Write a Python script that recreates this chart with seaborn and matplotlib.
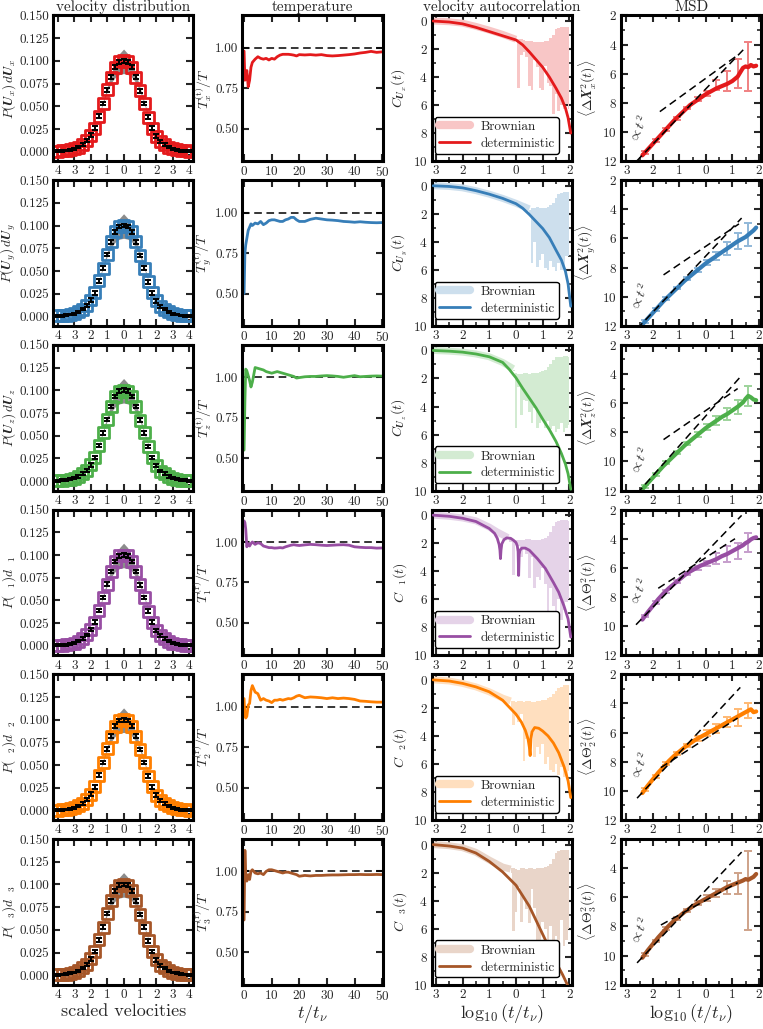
import matplotlib
matplotlib.use('Agg')
import matplotlib.pyplot as plt
import seaborn as sns
from matplotlib.lines import Line2D
from matplotlib.ticker import MultipleLocator, FixedLocator

sns.set_style('ticks')
plt.rcParams['font.family'] = ['cmr10', 'DejaVu Serif']
plt.rcParams['mathtext.fontset'] = 'cm'
plt.rcParams['axes.formatter.use_mathtext'] = True
plt.rcParams['axes.unicode_minus'] = False

# ---------------- data ----------------
# velocity distribution (same for all six panels)
v_grid = [-4, -3.75, -3.5, -3.25, -3, -2.75, -2.5, -2.25, -2, -1.75, -1.5, -1.25, -1, -0.75, -0.5, -0.25,
          0, 0.25, 0.5, 0.75, 1, 1.25, 1.5, 1.75, 2, 2.25, 2.5, 2.75, 3, 3.25, 3.5, 3.75, 4]
p_vel = [0.0005, 0.0008, 0.0012, 0.002, 0.003, 0.005, 0.008, 0.012, 0.018, 0.026, 0.039, 0.053, 0.068,
         0.082, 0.093, 0.099, 0.100, 0.099, 0.093, 0.082, 0.067, 0.053, 0.038, 0.026, 0.017, 0.011,
         0.008, 0.005, 0.003, 0.002, 0.001, 0.0008, 0.0005]
p_err = [0.001, 0.001, 0.001, 0.001, 0.001, 0.0012, 0.0015, 0.0015, 0.002, 0.002, 0.002, 0.002, 0.002,
         0.002, 0.002, 0.002, 0.002, 0.002, 0.002, 0.002, 0.002, 0.002, 0.002, 0.002, 0.002, 0.0015,
         0.0015, 0.0012, 0.001, 0.001, 0.001, 0.001, 0.001]
band_x = [-1.5, -1.25, -1, -0.75, -0.5, -0.25, 0, 0.25, 0.5, 0.75, 1, 1.25, 1.5]
band_lo = [0.039, 0.053, 0.066, 0.076, 0.082, 0.085, 0.086, 0.085, 0.082, 0.076, 0.066, 0.053, 0.039]
band_hi = [0.041, 0.056, 0.071, 0.086, 0.098, 0.108, 0.113, 0.108, 0.098, 0.086, 0.071, 0.056, 0.041]

# temperature
t_grid = [0, 0.3, 0.6, 1, 1.5, 2, 2.5, 3, 4, 5, 6, 7, 8, 9, 10, 11, 12, 13, 14, 15, 16, 17, 18, 19, 20,
          22, 24, 26, 28, 30, 32, 34, 36, 38, 40, 42, 44, 46, 48, 50]
temp_x = [0.98, 0.80, 0.82, 0.86, 0.76, 0.80, 0.88, 0.91,
          0.93, 0.945, 0.935, 0.93, 0.935, 0.925, 0.935, 0.93, 0.945, 0.955, 0.96, 0.96, 0.96, 0.958, 0.955, 0.95, 0.958,
          0.956, 0.958, 0.955, 0.958, 0.952, 0.95, 0.952, 0.955, 0.958, 0.962, 0.968, 0.972, 0.978, 0.972, 0.975]
temp_y = [0.50, 0.75, 0.80, 0.84, 0.89, 0.91, 0.93, 0.92,
          0.935, 0.93, 0.945, 0.925, 0.935, 0.95, 0.955, 0.955, 0.95, 0.945, 0.945, 0.955, 0.96, 0.97, 0.97, 0.955, 0.945,
          0.945, 0.958, 0.965, 0.96, 0.955, 0.953, 0.95, 0.945, 0.943, 0.94, 0.943, 0.94, 0.938, 0.937, 0.938]
temp_z = [0.55, 0.85, 1.05, 1.04, 1.01, 0.98, 0.94, 0.97,
          1.06, 1.055, 1.05, 1.045, 1.035, 1.03, 1.025, 1.03, 1.035, 1.03, 1.025, 1.02, 1.015, 1.01, 1.005, 0.995, 0.998,
          1.003, 1.005, 1.005, 1.008, 1.01, 1.008, 1.005, 1.0, 1.005, 1.01, 1.003, 1.005, 1.007, 1.008, 1.007]
temp_1 = [1.13, 1.12, 1.08, 0.97, 0.99, 0.975, 0.99, 1.0,
          0.985, 0.995, 0.99, 0.975, 0.97, 0.965, 0.965, 0.962, 0.963, 0.965, 0.963, 0.97, 0.975, 0.98, 0.983, 0.98, 0.978,
          0.982, 0.985, 0.983, 0.98, 0.978, 0.98, 0.982, 0.983, 0.98, 0.97, 0.967, 0.965, 0.965, 0.962, 0.963]
temp_2 = [1.05, 0.95, 0.93, 0.94, 1.01, 1.02, 1.10, 1.13,
          1.09, 1.08, 1.04, 1.05, 1.04, 1.035, 1.025, 1.04, 1.04, 1.045, 1.04, 1.045, 1.05, 1.048, 1.055, 1.065, 1.07,
          1.055, 1.06, 1.058, 1.055, 1.05, 1.055, 1.05, 1.053, 1.05, 1.045, 1.035, 1.033, 1.03, 1.028, 1.028]
temp_3 = [0.70, 1.13, 0.97, 0.94, 0.98, 0.95, 1.0, 1.01,
          0.99, 0.985, 0.99, 0.98, 1.0, 1.01, 1.01, 1.005, 1.0, 0.995, 0.99, 0.995, 0.995, 0.99, 0.985, 0.98, 0.97,
          0.975, 0.972, 0.975, 0.975, 0.977, 0.978, 0.978, 0.979, 0.98, 0.98, 0.981, 0.98, 0.98, 0.981, 0.98]

# velocity autocorrelation: deterministic curves
det_x_x = [-3.1, -2.5, -2.0, -1.5, -1.0, -0.5, 0.0, 0.25, 0.5, 0.75, 1.0, 1.25, 1.5, 1.7, 1.85, 1.95, 2.05]
det_y_x = [0.0, 0.07, 0.2, 0.45, 0.75, 1.05, 1.35, 1.7, 2.2, 2.75, 3.3, 4.0, 4.8, 5.5, 6.2, 6.9, 8.0]
det_x_y = [-3.1, -2.5, -2.0, -1.5, -1.0, -0.5, 0.0, 0.25, 0.5, 0.75, 1.0, 1.25, 1.5, 1.7, 1.85, 1.95, 2.05]
det_y_y = [0.0, 0.05, 0.15, 0.35, 0.6, 0.9, 1.28, 1.6, 2.05, 2.55, 3.05, 3.7, 4.6, 5.3, 6.1, 7.0, 8.6]
det_x_z = [-3.1, -2.5, -2.0, -1.5, -1.0, -0.5, -0.25, 0.0, 0.25, 0.5, 0.75, 1.0, 1.25, 1.5, 1.7, 1.85, 1.95, 2.05]
det_y_z = [0.0, 0.05, 0.12, 0.25, 0.45, 0.85, 1.35, 1.95, 2.7, 3.4, 4.1, 4.9, 5.65, 6.5, 7.35, 8.1, 8.8, 9.9]
det_x_1 = [-3.1, -2.5, -2.0, -1.5, -1.0, -0.8, -0.7, -0.63, -0.6, -0.58, -0.56, -0.53, -0.45, -0.35, -0.2, -0.1,
           0.0, 0.05, 0.08, 0.1, 0.12, 0.15, 0.22, 0.35, 0.5, 0.8, 1.1, 1.4, 1.6, 1.8, 1.95, 2.05]
det_y_1 = [0.0, 0.08, 0.22, 0.45, 0.95, 1.3, 1.65, 2.1, 2.5, 3.1, 2.5, 2.05, 1.75, 1.62, 1.65, 1.78,
           1.95, 2.2, 2.6, 4.3, 2.8, 2.5, 2.35, 2.35, 2.5, 3.1, 3.8, 4.8, 5.5, 6.5, 7.4, 8.7]
det_x_2 = [-3.1, -2.5, -2.0, -1.5, -1.0, -0.5, 0.0, 0.2, 0.35, 0.45, 0.5, 0.53, 0.56, 0.6, 0.7, 0.85, 1.0,
           1.2, 1.4, 1.6, 1.8, 1.95, 2.05]
det_y_2 = [0.0, 0.08, 0.25, 0.5, 0.85, 1.45, 2.45, 3.0, 3.6, 4.2, 4.8, 5.4, 4.2, 3.7, 3.4, 3.45, 3.65,
           4.0, 4.5, 5.2, 6.2, 7.2, 8.4]
det_x_3 = [-3.1, -2.5, -2.0, -1.5, -1.0, -0.5, 0.0, 0.5, 1.0, 1.5, 1.75, 1.95]
det_y_3 = [0.0, 0.1, 0.25, 0.6, 1.2, 1.95, 2.9, 4.4, 6.4, 8.4, 9.3, 10.1]

# velocity autocorrelation: Brownian (smooth part and noisy envelope)
bs_x_x = [-3.1, -2.5, -2.0, -1.5, -1.0, -0.5, 0.0]
bs_y_x = [0.0, 0.05, 0.15, 0.38, 0.65, 0.95, 1.3]
bn_x_x = [0.0, 0.1, 0.2, 0.3, 0.4, 0.5, 0.6, 0.7, 0.8, 0.9, 1.0, 1.1, 1.2, 1.3, 1.4, 1.5, 1.6, 1.7, 1.8, 1.9, 2.0]
bn_hi_x = [1.25, 1.3, 1.3, 1.35, 1.4, 1.4, 1.45, 1.5, 1.5, 1.5, 1.5, 1.45, 1.4, 1.2, 1.0, 0.6, 0.5, 0.4, 0.4, 0.4, 0.4]
bn_lo_x = [1.4, 4.8, 2.4, 2.2, 2.6, 4.6, 4.9, 2.8, 3.3, 4.8, 4.9, 3.2, 4.4, 4.6, 6.6, 5.2, 6.4, 6.0, 6.3, 5.9, 6.3]

bs_x_y = [-3.1, -2.5, -2.0, -1.5, -1.0, -0.5, 0.0, 0.5]
bs_y_y = [0.0, 0.05, 0.15, 0.35, 0.6, 0.9, 1.25, 1.65]
bn_x_y = [0.5, 0.6, 0.7, 0.8, 0.9, 1.0, 1.1, 1.2, 1.3, 1.4, 1.5, 1.6, 1.7, 1.8, 1.9, 2.0]
bn_hi_y = [1.7, 1.6, 1.6, 1.55, 1.6, 1.6, 1.6, 1.55, 1.4, 1.2, 0.9, 0.6, 0.5, 0.45, 0.45, 0.45]
bn_lo_y = [2.0, 5.5, 4.0, 5.8, 5.3, 4.9, 5.9, 6.0, 5.4, 5.8, 6.1, 5.5, 6.0, 5.8, 5.0, 5.0]

bs_x_z = [-3.1, -2.5, -2.0, -1.5, -1.0, -0.5, -0.1]
bs_y_z = [0.0, 0.05, 0.12, 0.25, 0.45, 0.85, 1.3]
bn_x_z = [-0.1, 0.0, 0.1, 0.2, 0.3, 0.4, 0.5, 0.6, 0.7, 0.8, 0.9, 1.0, 1.1, 1.2, 1.3, 1.4, 1.5, 1.6, 1.7, 1.8, 1.9, 2.0]
bn_hi_z = [1.4, 1.6, 1.65, 1.7, 1.6, 1.6, 1.65, 1.6, 1.6, 1.6, 1.55, 1.5, 1.4, 1.2, 1.0, 0.7, 0.5, 0.45, 0.45, 0.4, 0.4, 0.45]
bn_lo_z = [1.5, 5.5, 2.6, 4.6, 3.5, 3.6, 4.4, 5.2, 4.1, 5.5, 5.2, 4.9, 5.5, 5.0, 5.6, 5.4, 5.8, 5.6, 5.2, 5.8, 5.5, 5.3]

bs_x_1 = [-3.1, -2.5, -2.0, -1.5, -1.0, -0.7, -0.3]
bs_y_1 = [0.0, 0.08, 0.2, 0.4, 0.85, 1.2, 1.6]
bn_x_1 = [-0.3, -0.2, -0.1, 0.0, 0.1, 0.2, 0.3, 0.4, 0.5, 0.6, 0.7, 0.8, 0.9, 1.0, 1.1, 1.2, 1.3, 1.4, 1.5, 1.6,
          1.7, 1.8, 1.9, 2.0]
bn_hi_1 = [1.6, 1.7, 1.75, 1.75, 1.8, 1.8, 1.75, 1.7, 1.7, 1.75, 1.8, 1.8, 1.75, 1.7, 1.6, 1.5, 1.2, 0.8, 0.5, 0.4,
           0.35, 0.35, 0.35, 0.4]
bn_lo_1 = [1.7, 1.9, 4.3, 2.0, 2.2, 3.0, 2.4, 2.8, 4.5, 3.0, 5.2, 4.4, 4.6, 3.8, 4.9, 7.0, 5.2, 6.5, 7.4, 6.0,
           7.5, 6.8, 6.2, 6.0]

bs_x_2 = [-3.1, -2.5, -2.0, -1.5, -1.0, -0.5, -0.2]
bs_y_2 = [0.0, 0.08, 0.25, 0.5, 0.85, 1.3, 1.5]
bn_x_2 = [-0.2, -0.1, 0.0, 0.1, 0.2, 0.3, 0.4, 0.5, 0.6, 0.7, 0.8, 0.9, 1.0, 1.1, 1.2, 1.3, 1.4, 1.5, 1.6, 1.7,
          1.8, 1.9, 2.0]
bn_hi_2 = [1.5, 1.5, 1.55, 1.5, 1.5, 1.55, 1.5, 1.5, 1.55, 1.6, 1.5, 1.5, 1.45, 1.4, 1.3, 1.2, 1.0, 0.8, 0.6, 0.5,
           0.4, 0.4, 0.4]
bn_lo_2 = [2.0, 3.2, 2.6, 3.0, 2.4, 5.8, 4.2, 4.6, 3.6, 5.5, 4.8, 5.3, 4.6, 6.0, 5.5, 6.4, 6.6, 6.0, 6.8, 6.2,
           6.9, 6.8, 6.5]

bs_x_3 = [-3.1, -2.5, -2.0, -1.5, -1.0, -0.5, -0.2]
bs_y_3 = [0.0, 0.08, 0.22, 0.55, 1.1, 1.6, 1.75]
bn_x_3 = [-0.2, -0.1, 0.0, 0.1, 0.2, 0.3, 0.4, 0.5, 0.6, 0.7, 0.8, 0.9, 1.0, 1.1, 1.2, 1.3, 1.4, 1.5, 1.6, 1.7,
          1.8, 1.9, 2.0]
bn_hi_3 = [1.7, 1.7, 1.75, 1.8, 1.7, 1.7, 1.75, 1.7, 1.7, 1.75, 1.7, 1.7, 1.65, 1.6, 1.5, 1.4, 1.0, 0.6, 0.45, 0.4,
           0.35, 0.35, 0.35]
bn_lo_3 = [2.0, 6.2, 4.8, 3.0, 5.5, 3.8, 4.6, 5.6, 3.2, 4.5, 6.8, 8.5, 5.5, 6.0, 7.0, 5.8, 8.4, 6.5, 7.0, 5.4,
           7.2, 6.8, 6.0]

# MSD
msd_x = [-2.4, -2.2, -2.0, -1.8, -1.6, -1.4, -1.2, -1.0, -0.8, -0.6, -0.4, -0.2, 0.0, 0.2, 0.4, 0.6, 0.8, 1.0,
         1.2, 1.4, 1.5, 1.6, 1.7, 1.8, 1.9]
msd_xx = [11.6, 11.2, 10.8, 10.4, 10.0, 9.6, 9.2, 8.85, 8.5, 8.15, 7.9, 7.65, 7.4, 7.2, 7.0, 6.85, 6.7, 6.5,
          6.2, 5.6, 5.5, 5.55, 5.4, 5.5, 5.45]
msd_yy = [11.9, 11.5, 11.1, 10.7, 10.3, 9.95, 9.6, 9.25, 8.9, 8.6, 8.3, 8.0, 7.7, 7.45, 7.2, 6.95, 6.7, 6.45,
          6.2, 6.0, 5.9, 5.75, 5.6, 5.45, 5.25]
msd_zz = [11.9, 11.5, 11.1, 10.7, 10.3, 9.95, 9.6, 9.25, 8.9, 8.6, 8.3, 8.0, 7.7, 7.45, 7.2, 6.95, 6.75, 6.5,
          6.25, 5.95, 5.7, 5.5, 5.6, 5.75, 5.8]
msd_11 = [9.55, 9.05, 8.6, 8.15, 7.75, 7.4, 7.1, 6.8, 6.5, 6.25, 6.05, 5.85, 5.7, 5.55, 5.4, 5.2, 5.05, 4.85,
          4.65, 4.45, 4.3, 4.2, 4.05, 3.95, 3.9]
msd_22 = [10.15, 9.65, 9.2, 8.75, 8.35, 7.95, 7.6, 7.3, 7.0, 6.75, 6.5, 6.3, 6.1, 5.9, 5.7, 5.5, 5.3, 5.1,
          4.9, 4.7, 4.6, 4.5, 4.4, 4.6, 4.55]
msd_33 = [10.15, 9.65, 9.2, 8.75, 8.35, 7.95, 7.6, 7.3, 7.0, 6.75, 6.5, 6.3, 6.1, 5.9, 5.7, 5.5, 5.3, 5.15,
          5.0, 4.85, 4.75, 4.8, 4.7, 4.6, 4.4]

err_x = [-2.3, -1.9, -1.5, -1.1, -0.7, -0.3, 0.05, 0.4, 0.8, 1.2, 1.6]
errc_x = [11.4, 10.6, 9.8, 9.05, 8.35, 7.75, 7.35, 6.75, 6.5, 6.0, 5.5]
erre_x = [0.1, 0.1, 0.1, 0.1, 0.1, 0.15, 0.2, 0.35, 0.7, 1.0, 1.7]
errc_y = [11.7, 10.9, 10.1, 9.4, 8.75, 8.15, 7.65, 7.2, 6.7, 6.2, 5.75]
erre_y = [0.1, 0.1, 0.1, 0.1, 0.1, 0.15, 0.2, 0.3, 0.45, 0.55, 0.8]
errc_z = [11.7, 10.9, 10.1, 9.4, 8.75, 8.15, 7.65, 7.2, 6.75, 6.25, 5.5]
erre_z = [0.1, 0.1, 0.1, 0.1, 0.1, 0.15, 0.2, 0.3, 0.4, 0.5, 0.7]
errc_1 = [9.3, 8.4, 7.6, 6.95, 6.4, 6.0, 5.7, 5.35, 5.05, 4.85, 4.25]
erre_1 = [0.1, 0.1, 0.1, 0.1, 0.1, 0.15, 0.2, 0.35, 0.55, 0.55, 0.65]
errc_2 = [9.9, 9.0, 8.15, 7.45, 6.9, 6.4, 6.05, 5.7, 5.3, 4.95, 4.5]
erre_2 = [0.1, 0.1, 0.1, 0.1, 0.1, 0.15, 0.2, 0.3, 0.35, 0.6, 0.5]
errc_3 = [9.9, 9.0, 8.15, 7.45, 6.9, 6.4, 6.05, 5.7, 5.35, 5.05, 5.55]
erre_3 = [0.1, 0.1, 0.1, 0.1, 0.1, 0.15, 0.2, 0.3, 0.45, 0.7, 2.7]

# guide lines (x0, x1) and (y0, y1)
ball_x = [[-2.62, 1.41], [-2.6, 1.35], [-2.6, 1.3], [-2.64, 1.35], [-2.6, 1.3], [-2.6, 1.35]]
ball_y = [[12.0, 4.36], [12.2, 4.6], [12.2, 4.2], [9.9, 2.4], [10.5, 2.9], [10.5, 2.9]]
diff_x = [[-1.74, 1.22], [-1.6, 1.25], [-1.6, 1.2], [-1.8, 1.1], [-1.7, 1.2], [-1.7, 1.2]]
diff_y = [[8.6, 4.7], [8.5, 5.0], [8.5, 5.0], [7.4, 4.0], [8.4, 5.0], [7.9, 5.0]]

# labels
lab_p = [r'$P(\boldsymbol{U}_x)\,d\boldsymbol{U}_x$', r'$P(\boldsymbol{U}_y)\,d\boldsymbol{U}_y$',
         r'$P(\boldsymbol{U}_z)\,d\boldsymbol{U}_z$', r'$P(\ \ {}_1)d\ \ {}_1$', r'$P(\ \ {}_2)d\ \ {}_2$',
         r'$P(\ \ {}_3)d\ \ {}_3$']
lab_t = [r'$T_x^{(\mathrm{t})}/T$', r'$T_y^{(\mathrm{t})}/T$', r'$T_z^{(\mathrm{t})}/T$',
         r'$T_1^{(\mathrm{r})}/T$', r'$T_2^{(\mathrm{r})}/T$', r'$T_3^{(\mathrm{r})}/T$']
lab_c = [r'$C_{\boldsymbol{U}_x}(t)$', r'$C_{\boldsymbol{U}_y}(t)$', r'$C_{\boldsymbol{U}_z}(t)$',
         r'$C\ \ {}_1(t)$', r'$C\ \ {}_2(t)$', r'$C\ \ {}_3(t)$']
lab_m = [r'$\langle\Delta\boldsymbol{X}_x^2(t)\rangle$', r'$\langle\Delta\boldsymbol{X}_y^2(t)\rangle$',
         r'$\langle\Delta\boldsymbol{X}_z^2(t)\rangle$', r'$\langle\Delta\boldsymbol{\Theta}_1^2(t)\rangle$',
         r'$\langle\Delta\boldsymbol{\Theta}_2^2(t)\rangle$', r'$\langle\Delta\boldsymbol{\Theta}_3^2(t)\rangle$']
titles = ['velocity distribution', 'temperature', 'velocity autocorrelation', 'MSD']

temps = [temp_x, temp_y, temp_z, temp_1, temp_2, temp_3]
dets = [(det_x_x, det_y_x), (det_x_y, det_y_y), (det_x_z, det_y_z), (det_x_1, det_y_1),
        (det_x_2, det_y_2), (det_x_3, det_y_3)]
brs = [(bs_x_x, bs_y_x, bn_x_x, bn_hi_x, bn_lo_x), (bs_x_y, bs_y_y, bn_x_y, bn_hi_y, bn_lo_y),
       (bs_x_z, bs_y_z, bn_x_z, bn_hi_z, bn_lo_z), (bs_x_1, bs_y_1, bn_x_1, bn_hi_1, bn_lo_1),
       (bs_x_2, bs_y_2, bn_x_2, bn_hi_2, bn_lo_2), (bs_x_3, bs_y_3, bn_x_3, bn_hi_3, bn_lo_3)]
msds = [msd_xx, msd_yy, msd_zz, msd_11, msd_22, msd_33]
errs = [(errc_x, erre_x), (errc_y, erre_y), (errc_z, erre_z), (errc_1, erre_1), (errc_2, erre_2), (errc_3, erre_3)]

pal = sns.color_palette('Set1', 9)
colors = [pal[0], pal[1], pal[2], pal[3], pal[4], pal[6]]


def lighten(c, f):
    return tuple(1 - f * (1 - v) for v in c)


fig, axes = plt.subplots(6, 4, figsize=(7.63, 10.29), dpi=100)
fig.subplots_adjust(left=0.0695, right=0.998, top=0.985, bottom=0.043, wspace=0.35, hspace=0.13)

TS = 9.5
log_ticks = [-3, -2, -1, 0, 1, 2]
log_labels = ['3', '2', '1', '0', '1', '2']

for r in range(6):
    c = colors[r]
    light = lighten(c, 0.25)
    a1, a2, a3, a4 = axes[r]

    # velocity distribution
    a1.fill_between(band_x, band_lo, band_hi, color='0.55', lw=0, zorder=1)
    sns.scatterplot(x=v_grid, y=p_vel, marker='s', s=62, facecolor='none', edgecolor=c, linewidth=2.0,
                    ax=a1, zorder=2)
    a1.errorbar(v_grid, p_vel, yerr=p_err, fmt='none', ecolor='k', elinewidth=1.4, capsize=2.3,
                capthick=1.4, zorder=3)
    a1.set_xlim(-4.3, 4.25)
    a1.set_ylim(-0.0105, 0.150)
    a1.xaxis.set_major_locator(FixedLocator([-4, -3, -2, -1, 0, 1, 2, 3, 4]))
    a1.set_xticklabels(['4', '3', '2', '1', '0', '1', '2', '3', '4'])
    yt = [0, 0.025, 0.05, 0.075, 0.1, 0.125, 0.15]
    a1.yaxis.set_major_locator(FixedLocator(yt))
    a1.set_yticklabels(['0.000', '0.025', '0.050', '0.075', '0.100', '0.125', '0.150'])
    a1.set_ylabel(lab_p[r], fontsize=9.5, labelpad=1)

    # temperature
    a2.axhline(1.0, color='k', ls='--', lw=1.1, dashes=(5, 3), zorder=1)
    sns.lineplot(x=t_grid, y=temps[r], color=c, linewidth=2, ax=a2, estimator=None, sort=False, zorder=2)
    a2.set_xlim(-0.6, 50.2)
    a2.set_ylim(0.3, 1.2)
    a2.xaxis.set_major_locator(MultipleLocator(10))
    a2.yaxis.set_major_locator(FixedLocator([0.5, 0.75, 1.0]))
    a2.set_yticklabels(['0.50', '0.75', '1.00'])
    a2.set_ylabel(lab_t[r], fontsize=10, labelpad=1)

    # velocity autocorrelation
    bsx, bsy, bnx, bnh, bnl = brs[r]
    a3.plot(bsx, bsy, color=light, lw=5, solid_capstyle='butt', zorder=1)
    a3.fill_between(bnx, bnh, bnl, step='mid', color=light, lw=0, zorder=1)
    dx, dy = dets[r]
    sns.lineplot(x=dx, y=dy, color=c, linewidth=2, ax=a3, estimator=None, sort=False, zorder=3)
    a3.set_xlim(-3.15, 2.1)
    a3.set_ylim(10, -0.4)
    a3.xaxis.set_major_locator(FixedLocator(log_ticks))
    a3.set_xticklabels(log_labels)
    a3.xaxis.set_minor_locator(MultipleLocator(0.5))
    a3.yaxis.set_major_locator(FixedLocator([0, 2, 4, 6, 8, 10]))
    a3.yaxis.set_minor_locator(MultipleLocator(1))
    a3.set_ylabel(lab_c[r], fontsize=10, labelpad=3)
    handles = [Line2D([0], [0], color=light, lw=6), Line2D([0], [0], color=c, lw=2)]
    leg = a3.legend(handles, ['Brownian', 'deterministic'], loc='lower left', bbox_to_anchor=(0.02, 0.05),
                    borderaxespad=0, fontsize=TS, handlelength=2.4, frameon=True, fancybox=True,
                    framealpha=1, edgecolor='k', borderpad=0.3, labelspacing=0.35)
    leg.get_frame().set_linewidth(1.0)

    # MSD
    ec, ee = errs[r]
    a4.errorbar(err_x, ec, yerr=ee, fmt='none', ecolor=lighten(c, 0.55), elinewidth=1.4, capsize=3,
                capthick=1.4, zorder=1)
    sns.lineplot(x=msd_x, y=msds[r], color=c, linewidth=3, ax=a4, estimator=None, sort=False, zorder=2)
    a4.plot(ball_x[r], ball_y[r], color='k', ls='--', lw=1.1, dashes=(5, 3), zorder=3)
    a4.plot(diff_x[r], diff_y[r], color='k', ls='--', lw=1.1, dashes=(5, 3), zorder=3)
    a4.text(ball_x[r][0] + 0.1, ball_y[r][0] - 2.2, r'$\propto t^2$', rotation=65, fontsize=10,
            ha='center', va='center')
    a4.set_xlim(-3.2, 2.1)
    a4.set_ylim(12, 2)
    a4.xaxis.set_major_locator(FixedLocator(log_ticks))
    a4.set_xticklabels(log_labels)
    a4.xaxis.set_minor_locator(MultipleLocator(0.5))
    a4.yaxis.set_major_locator(FixedLocator([2, 4, 6, 8, 10, 12]))
    a4.yaxis.set_minor_locator(MultipleLocator(1))
    a4.set_ylabel(lab_m[r], fontsize=10, labelpad=3)

    for ax in (a1, a2, a3, a4):
        ax.tick_params(which='major', direction='in', top=True, right=True, length=5, width=1.5,
                       labelsize=TS, pad=3)
        ax.tick_params(which='minor', direction='in', top=True, right=True, length=3, width=1.2)
        for s in ax.spines.values():
            s.set_linewidth(2.2)
            s.set_color('k')

    if r == 0:
        for ax, t in zip(axes[0], titles):
            ax.set_title(t, fontsize=11, pad=3)

axes[5, 0].set_xlabel('scaled velocities', fontsize=13, labelpad=2)
axes[5, 1].set_xlabel(r'$t/t_\nu$', fontsize=13, labelpad=0)
axes[5, 2].set_xlabel(r'$\log_{10}(t/t_\nu)$', fontsize=13, labelpad=1)
axes[5, 3].set_xlabel(r'$\log_{10}(t/t_\nu)$', fontsize=13, labelpad=1)

fig.savefig('out.png', dpi=100)
